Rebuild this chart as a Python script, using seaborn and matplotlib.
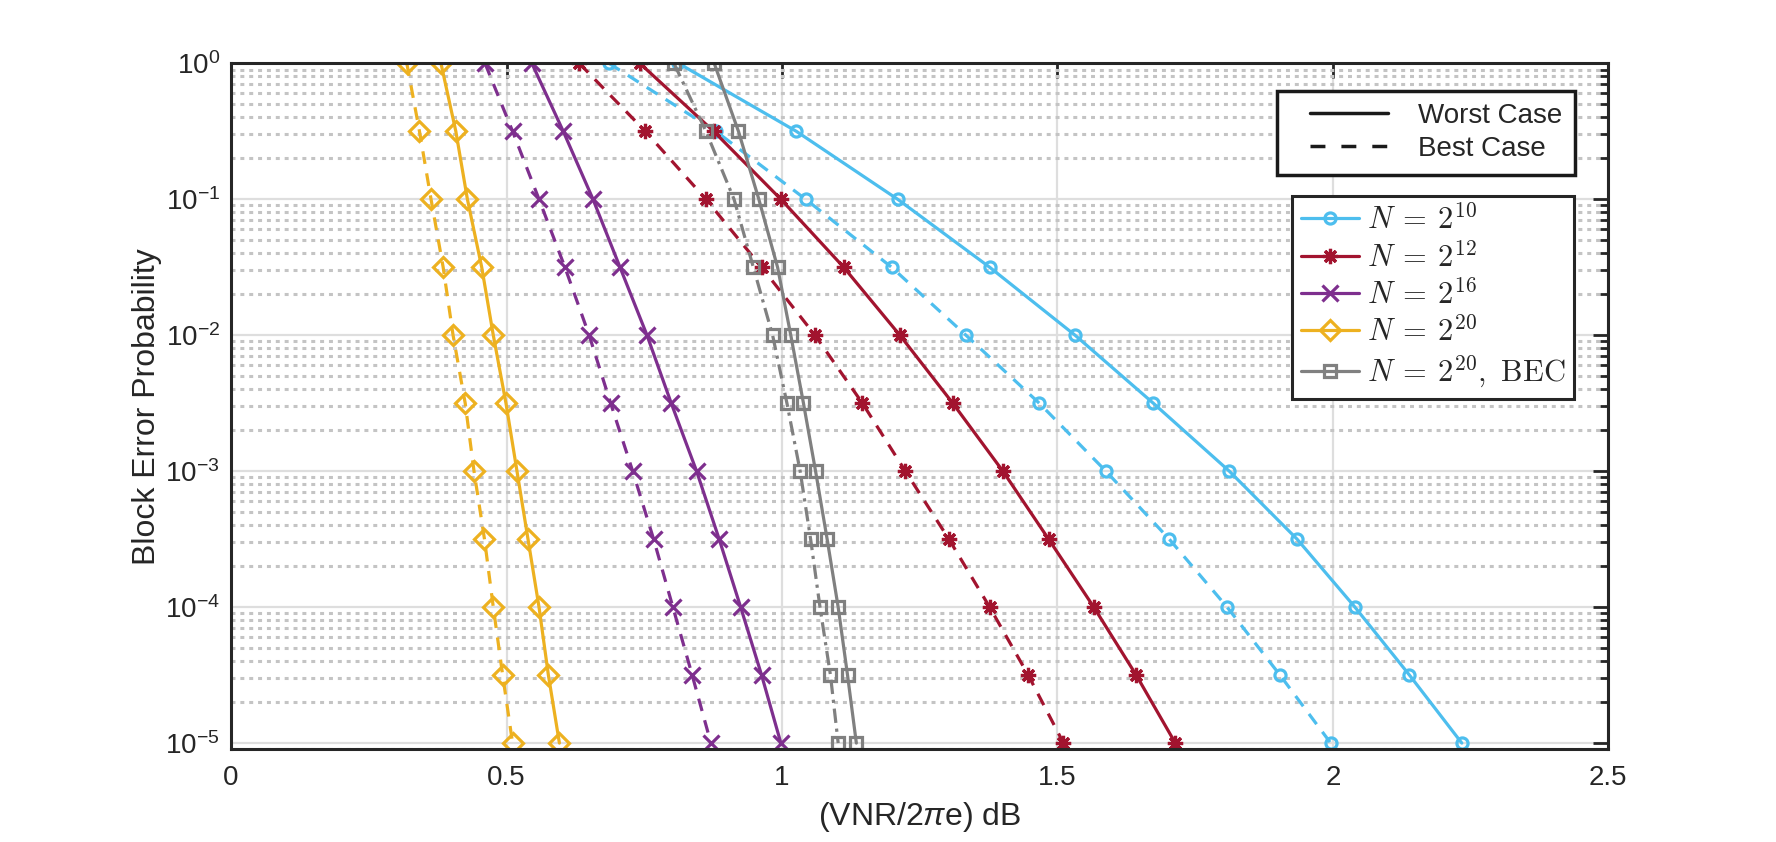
import numpy as np
import pandas as pd
import matplotlib
matplotlib.use("Agg")
import matplotlib.pyplot as plt
import seaborn as sns
from matplotlib.lines import Line2D
from matplotlib.ticker import LogLocator, NullFormatter, FuncFormatter, FixedLocator
from matplotlib.legend_handler import HandlerLine2D
from matplotlib.font_manager import FontProperties

# ---------------- data ----------------
bler = [1.0, 3.162e-1, 1e-1, 3.162e-2, 1e-2, 3.162e-3, 1e-3, 3.162e-4, 1e-4, 3.162e-5, 1e-5]

n10_worst = [0.812, 1.026, 1.210, 1.377, 1.532, 1.674, 1.812, 1.935, 2.040, 2.139, 2.234]
n10_best = [0.686, 0.880, 1.043, 1.199, 1.334, 1.467, 1.588, 1.703, 1.808, 1.904, 1.996]
n12_worst = [0.742, 0.876, 0.998, 1.112, 1.214, 1.310, 1.401, 1.484, 1.566, 1.643, 1.714]
n12_best = [0.632, 0.752, 0.862, 0.963, 1.060, 1.146, 1.224, 1.303, 1.377, 1.447, 1.511]
n16_worst = [0.546, 0.603, 0.657, 0.706, 0.755, 0.799, 0.845, 0.886, 0.925, 0.963, 0.998]
n16_best = [0.461, 0.511, 0.559, 0.606, 0.650, 0.689, 0.729, 0.767, 0.802, 0.837, 0.871]
n20_worst = [0.381, 0.408, 0.429, 0.455, 0.476, 0.499, 0.519, 0.539, 0.559, 0.576, 0.596]
n20_best = [0.319, 0.342, 0.363, 0.385, 0.403, 0.425, 0.441, 0.460, 0.476, 0.493, 0.511]
bec_worst = [0.877, 0.921, 0.958, 0.992, 1.016, 1.039, 1.061, 1.082, 1.102, 1.119, 1.135]
bec_best = [0.804, 0.862, 0.913, 0.948, 0.983, 1.009, 1.033, 1.052, 1.069, 1.088, 1.102]

series_labels = [r"$N\:=\:2^{10}$", r"$N\:=\:2^{12}$", r"$N\:=\:2^{16}$",
                 r"$N\:=\:2^{20}$", r"$N\:=\:2^{20},\ \mathrm{BEC}$"]
case_labels = ["Worst Case", "Best Case"]
x_ticks = [0, 0.5, 1, 1.5, 2, 2.5]
x_tick_labels = ["0", "0.5", "1", "1.5", "2", "2.5"]
xlabel = "(VNR/2$\\pi$e) dB"
ylabel = "Block Error Probability"

# ---------------- styles ----------------
colors = ["#4DBEEE", "#A2142F", "#7E2F8E", "#EDB120", "#808080"]
markers = ["o", (8, 2, 0), "x", "D", "s"]
msizes = [8, 11, 11, 10, 9]
worst_sets = [n10_worst, n12_worst, n16_worst, n20_worst, bec_worst]
best_sets = [n10_best, n12_best, n16_best, n20_best, bec_best]
dash_style = (0, (4.0, 3.0))
dashdot_style = (0, (4.5, 1.8, 1, 1.8))
LW = 2.3

sns.set_theme(style="white")
plt.rcParams["font.family"] = ["Liberation Sans", "DejaVu Sans"]
plt.rcParams["mathtext.fontset"] = "custom"
plt.rcParams["mathtext.rm"] = "Liberation Sans"
plt.rcParams["mathtext.it"] = "Liberation Sans:italic"

fig = plt.figure(figsize=(17.76, 8.42), dpi=100)
ax = fig.add_axes([0.1301, 0.1101, 0.7755, 0.8147])
ax.set_yscale("log")
ax.set_axisbelow(True)

for i in range(5):
    for j, xs in enumerate([worst_sets[i], best_sets[i]]):
        if j == 0:
            ls = "-"
        else:
            ls = dashdot_style if i == 4 else dash_style
        df = pd.DataFrame({"x": xs, "y": bler})
        sns.lineplot(data=df, x="x", y="y", ax=ax, color=colors[i], linewidth=LW,
                     linestyle=ls, marker=markers[i], markersize=msizes[i],
                     mfc="none", mec=colors[i], mew=2.3, estimator=None, sort=False,
                     legend=False)

ax.set_xlim(0, 2.5)
ax.set_ylim(9e-6, 1.0)
ax.xaxis.set_major_locator(FixedLocator(x_ticks))
ax.set_xticklabels(x_tick_labels)
ax.yaxis.set_major_locator(FixedLocator([1e-5, 1e-4, 1e-3, 1e-2, 1e-1, 1e0]))
ax.yaxis.set_major_formatter(FuncFormatter(
    lambda v, p: r"$\mathregular{10^{%d}}$" % int(round(np.log10(v)))))
ax.yaxis.set_minor_locator(LogLocator(base=10, subs=np.arange(2, 10), numticks=20))
ax.yaxis.set_minor_formatter(NullFormatter())

ax.grid(which="major", axis="both", color="#dedede", linewidth=1.6, linestyle="-")
ax.grid(which="minor", axis="y", color="#c4c4c4", linewidth=2.2,
        linestyle=(0, (1.3, 1.6)))

for s in ax.spines.values():
    s.set_color("#262626")
    s.set_linewidth(2.2)
ax.tick_params(which="both", direction="in", top=True, right=True,
               color="#262626", width=2, labelsize=20, labelcolor="#262626")
ax.tick_params(which="major", length=11, pad=8)
ax.tick_params(which="minor", length=5.5)
ax.tick_params(axis="x", which="major", pad=11)

ax.set_xlabel(xlabel, fontsize=23, color="#262626")
ax.set_ylabel(ylabel, fontsize=23, color="#262626")
ax.xaxis.set_label_coords(0.5, -0.074)
ax.yaxis.set_label_coords(-0.050, 0.5)

# ---------- legend 1: line styles ----------
h1 = [Line2D([], [], color="k", lw=2.5, ls="-"),
      Line2D([], [], color="k", lw=2.5, ls=(0, (4.3, 4.6)))]
leg1 = ax.legend(handles=h1, labels=case_labels, loc="upper left",
                 bbox_to_anchor=(0.7189, 0.8923), bbox_transform=fig.transFigure,
                 prop=FontProperties(family="Liberation Sans", size=20),
                 handlelength=4.3, handletextpad=0.35, borderpad=0.45,
                 labelspacing=0.25, numpoints=2, borderaxespad=0,
                 handler_map={Line2D: HandlerLine2D(marker_pad=0.75)},
                 fancybox=False, frameon=True, framealpha=1)
leg1.get_frame().set_edgecolor("k")
leg1.get_frame().set_linewidth(2.5)
ax.add_artist(leg1)

# ---------- legend 2: series ----------
h2 = [Line2D([], [], color=colors[i], lw=LW, marker=markers[i], markersize=msizes[i],
             mfc="none", mec=colors[i], mew=2.3)
      for i in range(5)]
leg2 = ax.legend(handles=h2, labels=series_labels, loc="upper left",
                 bbox_to_anchor=(0.7273, 0.7672), bbox_transform=fig.transFigure,
                 prop=FontProperties(family="Liberation Sans", size=22,
                                     math_fontfamily="cm"),
                 handlelength=1.9, handletextpad=0.25, borderpad=0.3,
                 labelspacing=0.2, numpoints=1, borderaxespad=0,
                 fancybox=False, frameon=True, framealpha=1)
leg2.get_frame().set_edgecolor("#262626")
leg2.get_frame().set_linewidth(2.2)

fig.savefig("out.png", dpi=100)
